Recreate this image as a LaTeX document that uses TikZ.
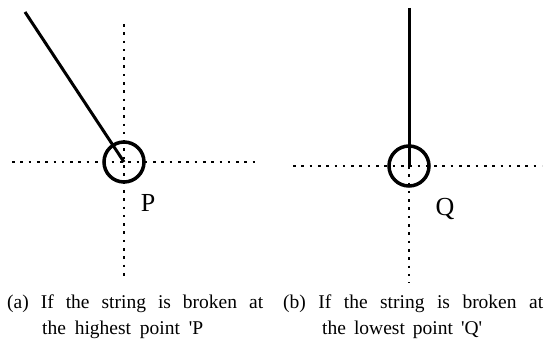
\documentclass[tikz,border=0pt]{standalone}
\usepackage{fontspec}
\setmainfont{Liberation Serif}
\begin{document}
\begin{tikzpicture}[x=1pt,y=-1pt,
  axis/.style={line width=1.8pt,dash pattern=on 2.6pt off 5.7pt},
  stringline/.style={line width=3pt},
  ball/.style={circle,draw,line width=3.5pt,minimum size=40pt,inner sep=0pt},
  lbl/.style={font=\fontsize{26}{30}\selectfont,inner sep=0pt},
  captext/.style={font=\fontsize{19.5}{23}\selectfont,inner sep=0pt,anchor=base west}]
\useasboundingbox (0,0) rectangle (547,339);
% left figure
\coordinate (Pc) at (124,162);
\coordinate (Pl) at (12,162);
\coordinate (Pr) at (260,162);
\coordinate (Pt) at (124,24);
\coordinate (Pb) at (124,281);
\coordinate (Ps) at (25,12);
\draw[axis] (Pl) -- (Pr);
\draw[axis] (Pt) -- (Pb);
\node[ball] (Pball) at (Pc) {};
\draw[stringline] (Ps) -- (Pc);
\node[lbl] (P) at (148,203) {P};
% right figure
\coordinate (Qc) at (409,166);
\coordinate (Ql) at (293,166);
\coordinate (Qr) at (542,166);
\coordinate (Qb) at (409,283);
\coordinate (Qs) at (409,8);
\draw[axis] (Ql) -- (Qr);
\draw[axis] (Qc) -- (Qb);
\node[ball] (Qball) at (Qc) {};
\draw[stringline] (Qs) -- (Qc);
\node[lbl] (Q) at (445,209) {Q};
% captions
\node[captext] (ca1) at (7,309) {\makebox[256pt][s]{(a) If the string is broken at}};
\node[captext] (ca2) at (42,335) {\makebox[161pt][s]{the highest point \textquotesingle P}};
\node[captext] (cb1) at (283,309) {\makebox[260pt][s]{(b) If the string is broken at}};
\node[captext] (cb2) at (322,335) {\makebox[160pt][s]{the lowest point \textquotesingle Q\textquotesingle}};
\end{tikzpicture}
\end{document}
